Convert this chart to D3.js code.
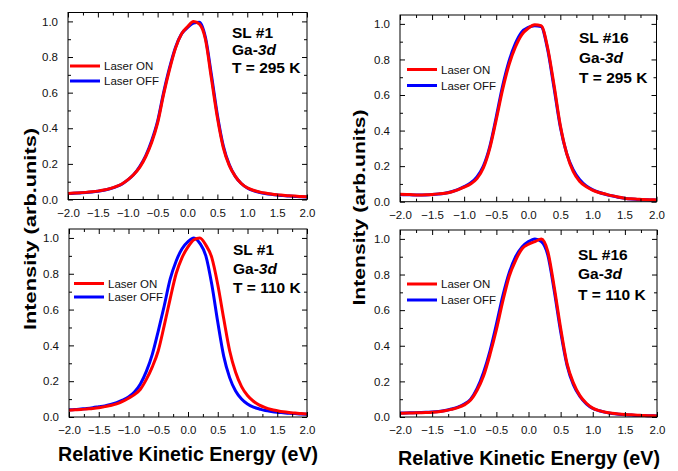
<!DOCTYPE html>
<html><head><meta charset="utf-8">
<script src="https://cdn.jsdelivr.net/npm/d3@7"></script>
<style>
html,body{margin:0;padding:0;background:#fff;}
svg{display:block;font-family:"Liberation Sans",Arial,sans-serif;}
</style></head>
<body><svg id="chart" width="678" height="471"></svg>
<script>
// ---------- data ----------
const energy = [-2.0,-1.9,-1.8,-1.7,-1.6,-1.5,-1.4,-1.3,-1.2,-1.1,-1.0,-0.9,-0.8,-0.7,-0.6,-0.5,-0.4,-0.3,-0.2,-0.1,0.0,0.1,0.2,0.3,0.4,0.5,0.6,0.7,0.8,0.9,1.0,1.1,1.2,1.3,1.4,1.5,1.6,1.7,1.8,1.9,2.0];

const sl1_295K_on  = [0.034,0.036,0.038,0.040,0.043,0.047,0.053,0.061,0.072,0.087,0.11,0.14,0.18,0.24,0.32,0.43,0.59,0.73,0.85,0.93,0.97,1.0,0.985,0.90,0.68,0.46,0.29,0.19,0.13,0.09,0.066,0.052,0.043,0.036,0.031,0.027,0.024,0.021,0.019,0.017,0.016];
const sl1_295K_off = [0.033,0.035,0.037,0.039,0.042,0.046,0.052,0.060,0.071,0.086,0.11,0.14,0.185,0.245,0.33,0.44,0.60,0.74,0.855,0.93,0.965,0.99,0.995,0.91,0.70,0.475,0.30,0.195,0.13,0.09,0.065,0.05,0.041,0.034,0.029,0.025,0.022,0.019,0.017,0.015,0.014];

const sl16_295K_on  = [0.042,0.041,0.039,0.038,0.039,0.041,0.044,0.048,0.055,0.066,0.082,0.10,0.13,0.19,0.30,0.46,0.63,0.77,0.87,0.94,0.975,0.995,0.99,0.87,0.66,0.43,0.27,0.17,0.115,0.085,0.065,0.052,0.043,0.034,0.026,0.02,0.016,0.014,0.012,0.011,0.01];
const sl16_295K_off = [0.040,0.039,0.038,0.037,0.038,0.040,0.043,0.048,0.056,0.068,0.085,0.105,0.14,0.20,0.31,0.475,0.65,0.79,0.89,0.955,0.98,0.99,0.985,0.86,0.645,0.42,0.27,0.18,0.125,0.09,0.068,0.053,0.042,0.033,0.025,0.019,0.015,0.013,0.011,0.010,0.009];

const sl1_110K_on  = [0.038,0.040,0.042,0.045,0.048,0.052,0.058,0.064,0.073,0.087,0.105,0.125,0.155,0.21,0.28,0.37,0.51,0.66,0.80,0.89,0.95,0.99,1.0,0.96,0.89,0.74,0.55,0.37,0.25,0.17,0.12,0.088,0.066,0.052,0.042,0.035,0.029,0.025,0.022,0.019,0.017];
const sl1_110K_off = [0.040,0.042,0.045,0.048,0.052,0.057,0.062,0.070,0.080,0.094,0.112,0.14,0.185,0.255,0.35,0.48,0.62,0.77,0.87,0.94,0.98,1.0,0.97,0.90,0.74,0.53,0.34,0.22,0.145,0.10,0.072,0.055,0.045,0.036,0.031,0.027,0.024,0.021,0.019,0.017,0.016];

const sl16_110K_on  = [0.021,0.022,0.023,0.024,0.025,0.027,0.030,0.035,0.043,0.053,0.068,0.095,0.15,0.23,0.35,0.49,0.65,0.79,0.88,0.945,0.97,0.985,1.0,0.93,0.73,0.50,0.30,0.19,0.12,0.077,0.05,0.036,0.027,0.021,0.017,0.014,0.012,0.010,0.008,0.007,0.006];
const sl16_110K_off = [0.022,0.023,0.024,0.025,0.026,0.028,0.031,0.036,0.045,0.056,0.073,0.10,0.16,0.25,0.37,0.52,0.68,0.81,0.90,0.955,0.985,1.0,0.985,0.91,0.71,0.48,0.29,0.18,0.115,0.074,0.048,0.035,0.026,0.02,0.016,0.013,0.011,0.009,0.008,0.007,0.006];

const xTicks = [-2.0,-1.5,-1.0,-0.5,0.0,0.5,1.0,1.5,2.0];
const xMinorTicks = [-1.75,-1.25,-0.75,-0.25,0.25,0.75,1.25,1.75];
const yTicks = [0.0,0.2,0.4,0.6,0.8,1.0];
const yMinorTicks = [0.1,0.3,0.5,0.7,0.9];
const legendLabels = ["Laser ON","Laser OFF"];
const sampleNames = ["SL #1","SL #16","SL #1","SL #16"];
const temperatures = ["T = 295 K","T = 295 K","T = 110 K","T = 110 K"];
const xTitle = "Relative Kinetic Energy (eV)";
const yTitle = "Intensity (arb.units)";

// ---------- layout ----------
const panels = [
  {x0:68,  x1:307,   y0:12.5, y1:199.5, on:sl1_295K_on,  off:sl1_295K_off,  sample:sampleNames[0], temp:temperatures[0],
   ann:{x:232, y:[37.5,55,72.5]}, leg:{x:70, y:[66,81]}},
  {x0:400, x1:656.5, y0:15,   y1:201.7, on:sl16_295K_on, off:sl16_295K_off, sample:sampleNames[1], temp:temperatures[1],
   ann:{x:579, y:[43,62.5,83]},   leg:{x:407, y:[69.5,85.5]}},
  {x0:69,  x1:307,   y0:229,  y1:417,   on:sl1_110K_on,  off:sl1_110K_off,  sample:sampleNames[2], temp:temperatures[2],
   ann:{x:233, y:[255,273.5,292.5]}, leg:{x:74, y:[283.5,297]}},
  {x0:400, x1:657,   y0:230,  y1:417,   on:sl16_110K_on, off:sl16_110K_off, sample:sampleNames[3], temp:temperatures[3],
   ann:{x:578, y:[260,278.5,300]}, leg:{x:407, y:[284,300]}}
];

const svg = d3.select("#chart");
const fmt = d3.format(".1f");
const colors = {on:"#ff0000", off:"#0000ff"};

panels.forEach(p => {
  const x = d3.scaleLinear().domain([-2,2]).range([p.x0,p.x1]);
  const y = d3.scaleLinear().domain([0,1.05]).range([p.y1,p.y0]);
  const g = svg.append("g");

  // curves (OFF below, ON above)
  const line = d3.line().x((d,i)=>x(energy[i])).y(d=>y(d)).curve(d3.curveMonotoneX);
  g.append("path").datum(p.off).attr("d",line).attr("fill","none")
    .attr("stroke",colors.off).attr("stroke-width",3).attr("stroke-linejoin","round");
  g.append("path").datum(p.on).attr("d",line).attr("fill","none")
    .attr("stroke",colors.on).attr("stroke-width",3).attr("stroke-linejoin","round");

  // axes
  const axB = g.append("g").attr("transform",`translate(0,${p.y1})`)
    .call(d3.axisBottom(x).tickValues(xTicks).tickFormat(fmt).tickSizeInner(-5).tickSizeOuter(0).tickPadding(9));
  const axBm = g.append("g").attr("transform",`translate(0,${p.y1})`)
    .call(d3.axisBottom(x).tickValues(xMinorTicks).tickFormat("").tickSizeInner(-3).tickSizeOuter(0));
  const axT = g.append("g").attr("transform",`translate(0,${p.y0})`)
    .call(d3.axisTop(x).tickValues(xTicks).tickFormat("").tickSizeInner(-5).tickSizeOuter(0));
  const axTm = g.append("g").attr("transform",`translate(0,${p.y0})`)
    .call(d3.axisTop(x).tickValues(xMinorTicks).tickFormat("").tickSizeInner(-3).tickSizeOuter(0));
  const axL = g.append("g").attr("transform",`translate(${p.x0},0)`)
    .call(d3.axisLeft(y).tickValues(yTicks).tickFormat(fmt).tickSizeInner(-5).tickSizeOuter(0).tickPadding(10));
  const axLm = g.append("g").attr("transform",`translate(${p.x0},0)`)
    .call(d3.axisLeft(y).tickValues(yMinorTicks).tickFormat("").tickSizeInner(-3).tickSizeOuter(0));
  const axR = g.append("g").attr("transform",`translate(${p.x1},0)`)
    .call(d3.axisRight(y).tickValues(yTicks).tickFormat("").tickSizeInner(-5).tickSizeOuter(0));
  const axRm = g.append("g").attr("transform",`translate(${p.x1},0)`)
    .call(d3.axisRight(y).tickValues(yMinorTicks).tickFormat("").tickSizeInner(-3).tickSizeOuter(0));
  [axB,axBm,axT,axTm,axL,axLm,axR,axRm].forEach(a=>{
    a.select(".domain").remove();
    a.selectAll("line").attr("stroke","#000").attr("stroke-width",1);
    a.selectAll("text").attr("font-family","Liberation Sans, Arial, sans-serif")
      .attr("font-size",11.5).attr("fill","#111");
  });
  // frame
  g.append("rect").attr("x",p.x0).attr("y",p.y0).attr("width",p.x1-p.x0).attr("height",p.y1-p.y0)
    .attr("fill","none").attr("stroke","#000").attr("stroke-width",1);

  // legend
  legendLabels.forEach((lab,i)=>{
    const ly = p.leg.y[i];
    g.append("line").attr("x1",p.leg.x).attr("x2",p.leg.x+30).attr("y1",ly).attr("y2",ly)
      .attr("stroke", i===0?colors.on:colors.off).attr("stroke-width",3);
    g.append("text").attr("x",p.leg.x+34).attr("y",ly).attr("dy","0.35em")
      .attr("font-size",11.5).attr("fill","#111").text(lab);
  });

  // annotation
  const a = g.append("g").attr("font-weight","bold").attr("font-size",15.5).attr("fill","#000");
  a.append("text").attr("x",p.ann.x).attr("y",p.ann.y[0]).text(p.sample);
  const t2 = a.append("text").attr("x",p.ann.x).attr("y",p.ann.y[1]);
  t2.append("tspan").text("Ga-");
  t2.append("tspan").attr("font-style","italic").text("3d");
  a.append("text").attr("x",p.ann.x).attr("y",p.ann.y[2]).text(p.temp);
});

// axis titles
svg.append("text").attr("transform","translate(35.5,229) rotate(-90)").attr("text-anchor","middle")
  .attr("font-weight","bold").attr("font-size",17).attr("textLength",202).attr("lengthAdjust","spacingAndGlyphs").text(yTitle);
svg.append("text").attr("transform","translate(365,207.5) rotate(-90)").attr("text-anchor","middle")
  .attr("font-weight","bold").attr("font-size",17).attr("textLength",196).attr("lengthAdjust","spacingAndGlyphs").text(yTitle);
svg.append("text").attr("x",188).attr("y",461).attr("text-anchor","middle")
  .attr("font-weight","bold").attr("font-size",19.8).attr("textLength",260).attr("lengthAdjust","spacingAndGlyphs").text(xTitle);
svg.append("text").attr("x",529).attr("y",465).attr("text-anchor","middle")
  .attr("font-weight","bold").attr("font-size",19.8).attr("textLength",262).attr("lengthAdjust","spacingAndGlyphs").text(xTitle);
</script></body></html>
